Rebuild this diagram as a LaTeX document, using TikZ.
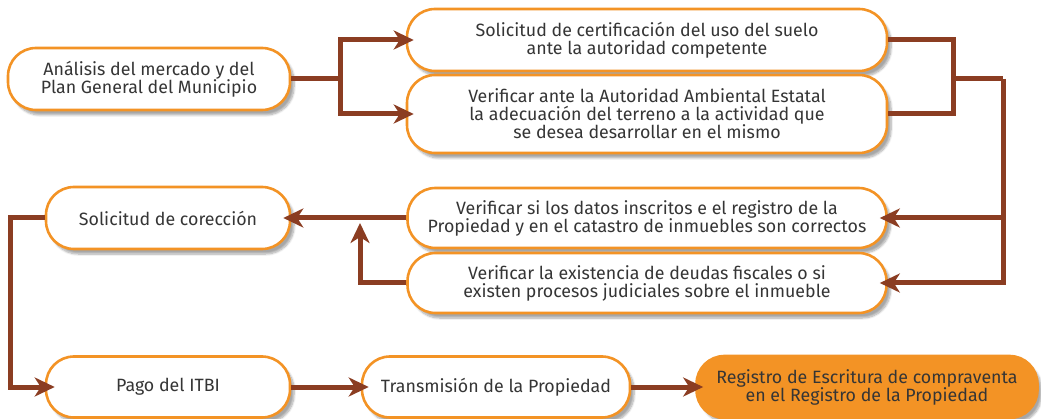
\documentclass[tikz,border=0pt]{standalone}
\usepackage{fontspec}
\setmainfont{Fira Sans}
\usepackage{xcolor}
\usepackage{tikz}
\usetikzlibrary{arrows.meta,shadows.blur}

\definecolor{naranja}{HTML}{F39325}
\definecolor{cafe}{HTML}{8B3D22}
\definecolor{texto}{HTML}{353535}

\begin{document}
\begin{tikzpicture}[x=1pt,y=-1pt,
	box/.style={draw=naranja,line width=2.6pt,fill=white,rounded corners=28pt,
		text=texto,align=center,inner sep=0pt,
		font=\fontsize{17.8}{18}\selectfont,
		blur shadow={shadow xshift=4pt,shadow yshift=-5pt,shadow opacity=35,shadow blur steps=8}},
	endbox/.style={box,fill=naranja},
	conn/.style={draw=cafe,line width=5pt},
	>={Stealth[length=20pt,width=19pt,inset=6pt]}]
	\useasboundingbox (0,0) rectangle (1041,419);

	% boxes
	\node[box,minimum width=282pt,minimum height=62pt] (ana) at (149,79) {Análisis del mercado y del\\Plan General del Municipio};
	\node[box,minimum width=480pt,minimum height=62pt] (cert) at (647,40) {Solicitud de certificación del uso del suelo\\ante la autoridad competente};
	\node[box,minimum width=480pt,minimum height=78pt] (amb) at (647,114) {Verificar ante la Autoridad Ambiental Estatal\\la adecuación del terreno a la actividad que\\se desea desarrollar en el mismo};
	\node[box,minimum width=479pt,minimum height=60pt] (datos) at (647,218) {Verificar si los datos inscritos e el registro de la\\Propiedad y en el catastro de inmuebles son correctos};
	\node[box,minimum width=479pt,minimum height=60pt] (deudas) at (647,283) {Verificar la existencia de deudas fiscales o si\\existen procesos judiciales sobre el inmueble};
	\node[box,minimum width=244pt,minimum height=62pt] (corr) at (168,218) {Solicitud de corección};
	\node[box,minimum width=244pt,minimum height=61pt] (pago) at (168,387) {Pago del ITBI};
	\node[box,minimum width=268pt,minimum height=61pt] (trans) at (496,387) {Transmisión de la Propiedad};
	\node[endbox,minimum width=341pt,minimum height=62pt] (reg) at (867,387) {Registro de Escritura de compraventa\\en el Registro de la Propiedad};

	% junctions
	\coordinate (j1) at (340,79);
	\coordinate (j2) at (953,79);
	\coordinate (j3) at (1003,79);
	\coordinate (j4) at (360,223);

	% connectors
	\draw[conn] (ana.east) -- (j1);
	\draw[conn,->,shorten >=-8pt] (j1) |- (cert.west);
	\draw[conn,->,shorten >=-8pt] (j1) |- (amb.west);
	\draw[conn] (cert.east) -| (j2) |- (amb.east);
	\draw[conn] (j2) -- (j3);
	\draw[conn,->,shorten >=-8pt] (j3) |- (datos.east);
	\draw[conn,->,shorten >=-8pt] (j3) |- (deudas.east);
	\draw[conn,->,shorten >=-8pt] (datos.west) -- (corr.east);
	\draw[conn,->] (deudas.west) -| (j4);
	\draw[conn,->,shorten >=-10pt] (corr.west) -- ++(-34,0) |- (pago.west);
	\draw[conn,->,shorten >=-8pt] (pago.east) -- (trans.west);
	\draw[conn,->,shorten >=-8pt] (trans.east) -- (reg.west);
\end{tikzpicture}
\end{document}
